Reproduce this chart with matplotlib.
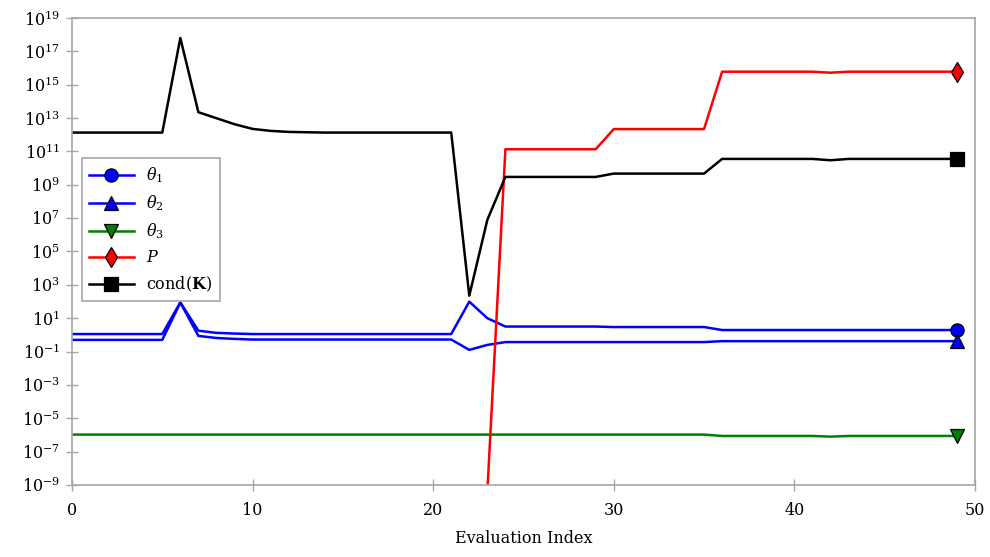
import matplotlib
matplotlib.use("Agg")
import matplotlib.pyplot as plt
from matplotlib.lines import Line2D
from matplotlib.ticker import NullLocator

plt.rcParams["font.family"] = ["DejaVu Serif"]
plt.rcParams["mathtext.fontset"] = "dejavuserif"
plt.rcParams["font.size"] = 11.5

# Evaluation index
idx = list(range(50))

theta1 = ([1.12] * 6 + [89, 1.78, 1.32, 1.2] + [1.12] * 12 +
          [98, 10.0] + [3.16] * 6 + [2.95] * 6 + [1.95] * 14)
theta2 = ([0.5] * 6 + [86, 0.87, 0.65, 0.575] + [0.525] * 12 +
          [0.126, 0.25] + [0.37] * 12 + [0.42] * 14)
theta3 = ([1.05e-6] * 36 + [8.7e-7] * 6 + [7.9e-7] + [8.7e-7] * 7)
P = ([1e-12] * 23 + [4.0e-10] + [1.35e11] * 6 + [2.19e12] * 6 +
     [6.03e15] * 6 + [5.25e15] + [6.03e15] * 7)
condK = ([1.35e12] * 6 + [6.3e17, 2.24e13, 9.8e12, 4.27e12, 2.24e12, 1.7e12,
          1.48e12, 1.41e12] + [1.35e12] * 8 + [224, 7.9e6] + [2.95e9] * 6 +
         [4.68e9] * 6 + [3.55e10] * 6 + [2.95e10] + [3.55e10] * 7)

series = [
    (theta1, "#0000ff", "o", r"$\theta_1$"),
    (theta2, "#0000ff", "^", r"$\theta_2$"),
    (theta3, "#008000", "v", r"$\theta_3$"),
    (P, "#ff0000", "d", r"$P$"),
    (condK, "#000000", "s", r"cond($\mathbf{K}$)"),
]

fig = plt.figure(figsize=(9.9, 5.57), dpi=100)
ax = fig.add_axes([0.0727, 0.1293, 0.9121, 0.8384])

handles = []
for vals, col, mk, lab in series:
    ms = 10.5 if mk == "d" else 9.5
    style = dict(marker=mk, markersize=ms, markeredgecolor="black",
                 markeredgewidth=0.9, markerfacecolor=col)
    # the curve itself, clipped to the axes
    ax.plot(idx, vals, color=col, lw=1.8)
    # end-point marker, allowed to overhang the frame
    ax.plot(idx[-1:], vals[-1:], linestyle="none", clip_on=False, zorder=5,
            **style)
    handles.append(Line2D([], [], color=col, lw=1.8, label=lab, **style))

ax.set_yscale("log")
ax.set_xlim(0, 50)
ax.set_ylim(1e-9, 1e19)
ax.set_yticks([10.0 ** k for k in range(-9, 20, 2)])
ax.yaxis.set_minor_locator(NullLocator())
ax.set_xticks([0, 10, 20, 30, 40, 50])
ax.set_xlabel("Evaluation Index", labelpad=8)

for sp in ax.spines.values():
    sp.set_color("#a6a6a6")
    sp.set_linewidth(1.2)
ax.tick_params(axis="both", which="major", direction="inout", length=9,
               width=1.0, color="#a6a6a6", labelsize=11.5)
ax.tick_params(axis="x", pad=8)
ax.tick_params(axis="y", pad=4)

leg = ax.legend(handles=handles, loc="upper left",
                bbox_to_anchor=(0.0107, 0.6996), numpoints=1,
                frameon=True, fancybox=False, framealpha=1.0,
                edgecolor="#a6a6a6", handlelength=2.8, handletextpad=0.8,
                labelspacing=0.52, borderpad=0.45, borderaxespad=0.0,
                fontsize=11.5)
leg.get_frame().set_linewidth(1.2)

fig.savefig("out.png", dpi=100)
